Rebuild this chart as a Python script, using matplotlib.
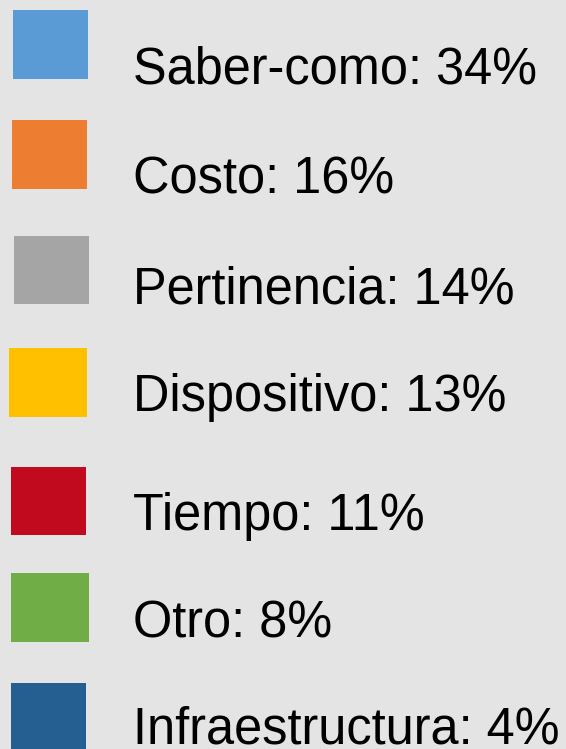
import matplotlib.pyplot as plt
from matplotlib.patches import Rectangle

# data
categories = ["Saber-como", "Costo", "Pertinencia", "Dispositivo", "Tiempo", "Otro", "Infraestructura"]
percentages = [34, 16, 14, 13, 11, 8, 4]
colors = ["#5B9BD5", "#ED7D31", "#A5A5A5", "#FFC000", "#C20A1F", "#70AD47", "#255E91"]

# layout (pixels, top-left origin)
square_x = [13, 12, 14, 9, 11, 11, 11]
square_y = [10, 120, 236, 348, 467, 573, 683]
square_w = [75, 75, 75, 78, 75, 78, 75]
square_h = [69, 69, 68, 69, 68, 69, 69]
text_x = 133
text_baseline = [83, 194, 304, 411, 530, 637, 743]

W, H = 566, 749
fig = plt.figure(figsize=(W / 100, H / 100), dpi=100)
fig.patch.set_facecolor("#E4E4E4")
ax = fig.add_axes([0, 0, 1, 1])
ax.set_facecolor("#E4E4E4")
ax.set_xlim(0, W)
ax.set_ylim(H, 0)
ax.axis("off")

for i, (cat, pct, col) in enumerate(zip(categories, percentages, colors)):
  ax.add_patch(Rectangle((square_x[i], square_y[i]), square_w[i], square_h[i],
                         facecolor=col, edgecolor="none"))
  ax.text(text_x, text_baseline[i], f"{cat}: {pct}%", fontsize=36.4,
          family="Liberation Sans", color="black", va="baseline", ha="left")

fig.savefig("out.png", dpi=100, facecolor=fig.get_facecolor())
